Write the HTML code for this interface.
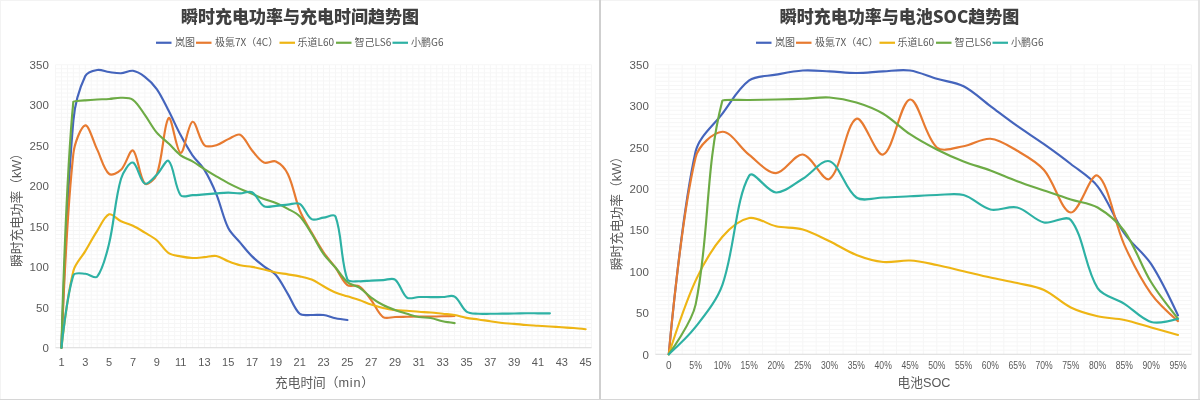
<!DOCTYPE html>
<html><head><meta charset="utf-8"><title>充电功率趋势图</title>
<style>
html,body{margin:0;padding:0;background:#fff;}
body{width:1200px;height:400px;overflow:hidden;}
svg{display:block;}
text{font-family:"Liberation Sans","Noto Sans CJK SC",sans-serif;fill:#595959;}
.tt{font-family:"Noto Sans CJK SC",sans-serif;font-weight:900;font-size:17px;fill:#404040;text-anchor:middle;}
.yl{font-size:11.5px;text-anchor:end;}
.xl{font-size:11px;text-anchor:middle;}
.xr{font-size:10px;text-anchor:middle;}
.lg{font-size:10px;font-family:"Noto Sans CJK SC",sans-serif;}
.at{font-size:12.7px;text-anchor:middle;}
</style></head>
<body>
<svg width="1200" height="400" viewBox="0 0 1200 400">
<rect width="1200" height="400" fill="#fff"/>
<path d="M55.50,64.75V347.75 M61.46,64.75V347.75 M67.41,64.75V347.75 M73.37,64.75V347.75 M79.33,64.75V347.75 M85.28,64.75V347.75 M91.24,64.75V347.75 M97.20,64.75V347.75 M103.15,64.75V347.75 M109.11,64.75V347.75 M115.07,64.75V347.75 M121.02,64.75V347.75 M126.98,64.75V347.75 M132.94,64.75V347.75 M138.89,64.75V347.75 M144.85,64.75V347.75 M150.81,64.75V347.75 M156.76,64.75V347.75 M162.72,64.75V347.75 M168.68,64.75V347.75 M174.63,64.75V347.75 M180.59,64.75V347.75 M186.55,64.75V347.75 M192.50,64.75V347.75 M198.46,64.75V347.75 M204.42,64.75V347.75 M210.37,64.75V347.75 M216.33,64.75V347.75 M222.29,64.75V347.75 M228.24,64.75V347.75 M234.20,64.75V347.75 M240.16,64.75V347.75 M246.11,64.75V347.75 M252.07,64.75V347.75 M258.03,64.75V347.75 M263.98,64.75V347.75 M269.94,64.75V347.75 M275.90,64.75V347.75 M281.85,64.75V347.75 M287.81,64.75V347.75 M293.77,64.75V347.75 M299.72,64.75V347.75 M305.68,64.75V347.75 M311.64,64.75V347.75 M317.59,64.75V347.75 M323.55,64.75V347.75 M329.51,64.75V347.75 M335.46,64.75V347.75 M341.42,64.75V347.75 M347.38,64.75V347.75 M353.33,64.75V347.75 M359.29,64.75V347.75 M365.25,64.75V347.75 M371.20,64.75V347.75 M377.16,64.75V347.75 M383.12,64.75V347.75 M389.07,64.75V347.75 M395.03,64.75V347.75 M400.99,64.75V347.75 M406.94,64.75V347.75 M412.90,64.75V347.75 M418.86,64.75V347.75 M424.81,64.75V347.75 M430.77,64.75V347.75 M436.73,64.75V347.75 M442.68,64.75V347.75 M448.64,64.75V347.75 M454.60,64.75V347.75 M460.55,64.75V347.75 M466.51,64.75V347.75 M472.47,64.75V347.75 M478.42,64.75V347.75 M484.38,64.75V347.75 M490.34,64.75V347.75 M496.29,64.75V347.75 M502.25,64.75V347.75 M508.21,64.75V347.75 M514.16,64.75V347.75 M520.12,64.75V347.75 M526.08,64.75V347.75 M532.03,64.75V347.75 M537.99,64.75V347.75 M543.95,64.75V347.75 M549.90,64.75V347.75 M555.86,64.75V347.75 M561.82,64.75V347.75 M567.77,64.75V347.75 M573.73,64.75V347.75 M579.69,64.75V347.75 M585.64,64.75V347.75 M591.60,64.75V347.75 M55.50,343.71H591.60 M55.50,339.66H591.60 M55.50,335.62H591.60 M55.50,331.58H591.60 M55.50,327.54H591.60 M55.50,323.49H591.60 M55.50,319.45H591.60 M55.50,315.41H591.60 M55.50,311.36H591.60 M55.50,307.32H591.60 M55.50,303.28H591.60 M55.50,299.24H591.60 M55.50,295.19H591.60 M55.50,291.15H591.60 M55.50,287.11H591.60 M55.50,283.06H591.60 M55.50,279.02H591.60 M55.50,274.98H591.60 M55.50,270.94H591.60 M55.50,266.89H591.60 M55.50,262.85H591.60 M55.50,258.81H591.60 M55.50,254.76H591.60 M55.50,250.72H591.60 M55.50,246.68H591.60 M55.50,242.64H591.60 M55.50,238.59H591.60 M55.50,234.55H591.60 M55.50,230.51H591.60 M55.50,226.46H591.60 M55.50,222.42H591.60 M55.50,218.38H591.60 M55.50,214.34H591.60 M55.50,210.29H591.60 M55.50,206.25H591.60 M55.50,202.21H591.60 M55.50,198.16H591.60 M55.50,194.12H591.60 M55.50,190.08H591.60 M55.50,186.04H591.60 M55.50,181.99H591.60 M55.50,177.95H591.60 M55.50,173.91H591.60 M55.50,169.86H591.60 M55.50,165.82H591.60 M55.50,161.78H591.60 M55.50,157.74H591.60 M55.50,153.69H591.60 M55.50,149.65H591.60 M55.50,145.61H591.60 M55.50,141.56H591.60 M55.50,137.52H591.60 M55.50,133.48H591.60 M55.50,129.44H591.60 M55.50,125.39H591.60 M55.50,121.35H591.60 M55.50,117.31H591.60 M55.50,113.26H591.60 M55.50,109.22H591.60 M55.50,105.18H591.60 M55.50,101.14H591.60 M55.50,97.09H591.60 M55.50,93.05H591.60 M55.50,89.01H591.60 M55.50,84.96H591.60 M55.50,80.92H591.60 M55.50,76.88H591.60 M55.50,72.84H591.60 M55.50,68.79H591.60 M55.50,64.75H591.60" stroke="#f6f6f6" stroke-width="1" fill="none"/>
<path d="M55.50,347.75H591.60" stroke="#d9d9d9" stroke-width="1.2" fill="none"/>
<text x="48.80" y="352.05" class="yl">0</text>
<text x="48.80" y="311.62" class="yl">50</text>
<text x="48.80" y="271.19" class="yl">100</text>
<text x="48.80" y="230.76" class="yl">150</text>
<text x="48.80" y="190.34" class="yl">200</text>
<text x="48.80" y="149.91" class="yl">250</text>
<text x="48.80" y="109.48" class="yl">300</text>
<text x="48.80" y="69.05" class="yl">350</text>
<text x="61.46" y="366.30" class="xl">1</text>
<text x="85.28" y="366.30" class="xl">3</text>
<text x="109.11" y="366.30" class="xl">5</text>
<text x="132.94" y="366.30" class="xl">7</text>
<text x="156.76" y="366.30" class="xl">9</text>
<text x="180.59" y="366.30" class="xl">11</text>
<text x="204.42" y="366.30" class="xl">13</text>
<text x="228.24" y="366.30" class="xl">15</text>
<text x="252.07" y="366.30" class="xl">17</text>
<text x="275.90" y="366.30" class="xl">19</text>
<text x="299.72" y="366.30" class="xl">21</text>
<text x="323.55" y="366.30" class="xl">23</text>
<text x="347.38" y="366.30" class="xl">25</text>
<text x="371.20" y="366.30" class="xl">27</text>
<text x="395.03" y="366.30" class="xl">29</text>
<text x="418.86" y="366.30" class="xl">31</text>
<text x="442.68" y="366.30" class="xl">33</text>
<text x="466.51" y="366.30" class="xl">35</text>
<text x="490.34" y="366.30" class="xl">37</text>
<text x="514.16" y="366.30" class="xl">39</text>
<text x="537.99" y="366.30" class="xl">41</text>
<text x="561.82" y="366.30" class="xl">43</text>
<text x="585.64" y="366.30" class="xl">45</text>
<path d="M61.46,347.75 C61.46,347.75 66.76,195.86 73.37,120.54 C74.71,105.30 79.13,89.12 85.28,76.07 C87.07,72.28 93.03,70.71 97.20,70.01 C100.97,69.37 105.12,71.49 109.11,72.03 C113.06,72.56 117.08,73.44 121.02,73.24 C125.02,73.04 129.15,70.24 132.94,70.81 C137.10,71.45 141.35,74.21 144.85,76.88 C149.30,80.27 153.54,84.41 156.76,89.01 C161.48,95.73 164.87,103.48 168.68,110.84 C172.81,118.84 176.34,127.16 180.59,135.10 C184.28,141.98 188.09,148.88 192.50,155.31 C196.04,160.47 201.16,164.56 204.42,169.86 C209.10,177.49 212.92,185.80 216.33,194.12 C220.87,205.20 223.03,217.46 228.24,228.08 C230.97,233.63 236.12,237.84 240.16,242.64 C244.06,247.27 247.78,252.12 252.07,256.38 C255.73,260.02 259.91,263.15 263.98,266.33 C267.85,269.34 272.74,271.33 275.90,274.98 C280.68,280.50 283.92,287.49 287.81,293.82 C291.87,300.42 294.48,309.13 299.72,313.79 C302.42,316.19 307.66,314.80 311.64,315.00 C315.60,315.20 319.65,314.47 323.55,315.00 C327.59,315.55 331.44,317.39 335.46,318.24 C339.39,319.06 347.38,320.02 347.38,320.02" stroke="#4464BC" stroke-width="2.15" fill="none" stroke-linecap="round" stroke-linejoin="round"/>
<path d="M61.46,347.75 C61.46,347.75 66.51,217.70 73.37,153.69 C74.45,143.58 81.06,126.11 85.28,125.39 C89.00,124.76 93.23,141.56 97.20,149.65 C101.17,157.74 103.69,169.31 109.11,173.91 C111.63,176.05 118.20,172.65 121.02,169.86 C126.14,164.83 129.82,148.66 132.94,150.46 C137.76,153.24 139.26,177.92 144.85,183.61 C147.21,186.01 155.14,179.18 156.76,174.72 C163.08,157.35 163.82,122.57 168.68,118.12 C171.76,115.29 176.43,152.25 180.59,152.88 C184.37,153.46 188.06,123.19 192.50,121.75 C196.01,120.62 198.95,139.82 204.42,145.20 C206.89,147.64 212.59,146.16 216.33,145.20 C220.53,144.13 224.17,140.93 228.24,139.14 C232.12,137.43 237.05,133.21 240.16,134.69 C244.99,136.99 247.80,145.46 252.07,150.46 C255.74,154.76 259.32,160.44 263.98,162.59 C267.26,164.10 272.64,159.91 275.90,161.46 C280.58,163.68 285.34,168.85 287.81,173.91 C293.29,185.13 294.94,198.51 299.72,210.29 C302.88,218.08 307.48,225.28 311.64,232.61 C315.42,239.29 319.24,245.99 323.55,252.34 C327.18,257.69 331.65,262.46 335.46,267.70 C339.59,273.38 342.31,281.13 347.38,285.09 C350.25,287.33 356.14,284.32 359.29,286.30 C364.08,289.31 367.49,295.26 371.20,300.04 C375.43,305.50 378.07,313.43 383.12,317.02 C386.01,319.09 391.06,317.06 395.03,317.02 C399.00,316.98 402.97,316.86 406.94,316.78 C410.91,316.70 414.89,316.58 418.86,316.54 C422.83,316.50 426.80,316.58 430.77,316.54 C434.74,316.50 438.71,316.42 442.68,316.30 C446.66,316.18 454.60,315.81 454.60,315.81" stroke="#E77A30" stroke-width="2.15" fill="none" stroke-linecap="round" stroke-linejoin="round"/>
<path d="M61.46,347.75 C61.46,347.75 67.25,295.76 73.37,270.94 C75.19,263.55 81.34,257.75 85.28,251.13 C89.28,244.41 92.95,237.47 97.20,230.91 C100.89,225.21 104.37,216.25 109.11,214.34 C112.31,213.04 116.89,219.32 121.02,221.29 C124.83,223.10 129.13,223.85 132.94,225.66 C137.07,227.62 140.93,230.21 144.85,232.61 C148.87,235.06 153.22,237.16 156.76,240.21 C161.17,244.01 164.01,249.98 168.68,253.15 C171.95,255.37 176.57,255.56 180.59,256.38 C184.51,257.18 188.52,257.86 192.50,258.00 C196.46,258.13 200.45,257.53 204.42,257.19 C208.39,256.85 212.53,255.33 216.33,255.98 C220.47,256.68 224.20,259.66 228.24,261.23 C232.15,262.76 236.10,264.31 240.16,265.28 C244.04,266.20 248.13,266.18 252.07,266.89 C256.07,267.61 260.02,268.62 263.98,269.56 C267.97,270.51 271.89,271.75 275.90,272.55 C279.83,273.34 283.85,273.70 287.81,274.33 C291.79,274.97 295.79,275.49 299.72,276.35 C303.74,277.24 307.87,278.01 311.64,279.59 C315.81,281.33 319.54,284.12 323.55,286.30 C327.49,288.44 331.35,290.79 335.46,292.52 C339.29,294.14 343.40,295.07 347.38,296.32 C351.34,297.58 355.36,298.68 359.29,300.04 C363.30,301.43 367.18,303.22 371.20,304.57 C375.12,305.89 379.09,307.12 383.12,308.05 C387.03,308.95 391.03,309.61 395.03,310.07 C398.98,310.53 402.98,310.52 406.94,310.80 C410.92,311.08 414.88,311.49 418.86,311.77 C422.82,312.05 426.81,312.16 430.77,312.50 C434.75,312.83 438.71,313.37 442.68,313.79 C446.65,314.21 450.67,314.34 454.60,315.00 C458.61,315.68 462.50,317.08 466.51,317.83 C470.44,318.57 474.46,318.87 478.42,319.45 C482.40,320.03 486.36,320.72 490.34,321.31 C494.30,321.90 498.26,322.59 502.25,323.01 C506.21,323.42 510.20,323.48 514.16,323.82 C518.14,324.15 522.10,324.71 526.08,325.03 C530.04,325.35 534.02,325.51 537.99,325.76 C541.96,326.00 545.93,326.23 549.90,326.48 C553.88,326.74 557.84,327.04 561.82,327.29 C565.79,327.55 569.77,327.70 573.73,328.02 C577.71,328.34 585.64,329.23 585.64,329.23" stroke="#EEB514" stroke-width="2.15" fill="none" stroke-linecap="round" stroke-linejoin="round"/>
<path d="M61.46,347.75 C61.46,347.75 65.45,183.74 73.37,101.46 C73.39,101.27 81.31,100.65 85.28,100.33 C89.25,100.00 93.22,99.75 97.20,99.52 C101.17,99.29 105.15,99.25 109.11,98.95 C113.09,98.66 117.07,97.61 121.02,97.74 C125.01,97.88 129.87,97.56 132.94,99.76 C137.82,103.27 141.09,109.69 144.85,114.88 C149.03,120.66 152.24,127.22 156.76,132.67 C160.18,136.79 164.77,139.88 168.68,143.59 C172.72,147.42 176.18,152.02 180.59,155.31 C184.12,157.94 188.65,159.15 192.50,161.37 C196.59,163.73 200.42,166.54 204.42,169.06 C208.36,171.53 212.32,173.97 216.33,176.33 C220.27,178.66 224.20,181.00 228.24,183.12 C232.14,185.18 236.14,187.05 240.16,188.87 C244.08,190.64 248.10,192.20 252.07,193.88 C256.05,195.57 259.95,197.43 263.98,198.97 C267.90,200.47 272.03,201.41 275.90,203.02 C279.97,204.70 283.96,206.68 287.81,208.84 C291.90,211.13 296.54,213.03 299.72,216.36 C304.48,221.33 307.88,227.81 311.64,233.74 C315.82,240.34 319.06,247.59 323.55,253.96 C327.01,258.86 331.57,262.94 335.46,267.54 C339.51,272.32 342.70,278.16 347.38,282.09 C350.64,284.84 355.65,285.23 359.29,287.59 C363.59,290.38 367.04,294.49 371.20,297.54 C374.98,300.31 378.97,302.88 383.12,305.06 C386.92,307.06 390.99,308.59 395.03,310.07 C398.93,311.50 402.95,312.62 406.94,313.79 C410.89,314.94 414.82,316.31 418.86,317.02 C422.76,317.71 426.87,317.29 430.77,317.99 C434.81,318.72 438.66,320.45 442.68,321.31 C446.60,322.15 454.60,323.09 454.60,323.09" stroke="#6DAB45" stroke-width="2.15" fill="none" stroke-linecap="round" stroke-linejoin="round"/>
<path d="M61.46,347.75 C61.46,347.75 66.55,296.57 73.37,275.38 C74.49,271.91 81.35,273.57 85.28,273.77 C89.29,273.97 95.15,279.20 97.20,276.60 C103.09,269.10 106.34,254.82 109.11,243.44 C114.28,222.21 114.94,199.41 121.02,178.76 C122.88,172.45 129.33,161.85 132.94,162.59 C137.27,163.47 139.93,181.11 144.85,183.61 C147.88,185.15 153.19,178.11 156.76,174.72 C161.13,170.56 166.03,158.68 168.68,160.97 C173.97,165.53 174.61,186.67 180.59,195.25 C182.55,198.07 188.54,195.32 192.50,195.17 C196.48,195.02 200.45,194.66 204.42,194.36 C208.39,194.07 212.36,193.68 216.33,193.39 C220.30,193.11 224.27,192.67 228.24,192.67 C232.21,192.67 236.19,193.47 240.16,193.39 C244.13,193.31 248.94,190.49 252.07,192.18 C256.88,194.78 259.16,203.48 263.98,206.25 C267.10,208.04 271.93,206.11 275.90,205.85 C279.88,205.58 283.83,204.97 287.81,204.63 C291.78,204.30 296.70,201.98 299.72,203.82 C304.64,206.83 306.73,216.34 311.64,219.19 C314.67,220.95 319.57,218.12 323.55,217.65 C327.52,217.18 334.21,213.12 335.46,216.36 C342.16,233.71 340.69,261.21 347.38,279.43 C348.63,282.85 355.30,281.10 359.29,281.29 C363.24,281.47 367.23,280.76 371.20,280.56 C375.17,280.36 379.15,280.23 383.12,280.07 C387.09,279.91 392.20,277.51 395.03,279.59 C400.14,283.34 401.83,293.79 406.94,297.54 C409.77,299.61 414.88,297.13 418.86,297.05 C422.83,296.97 426.80,297.05 430.77,297.05 C434.74,297.05 438.71,297.13 442.68,297.05 C446.66,296.97 451.55,294.71 454.60,296.57 C459.49,299.54 461.65,308.01 466.51,311.53 C469.59,313.75 474.42,313.41 478.42,313.79 C482.36,314.16 486.37,313.82 490.34,313.79 C494.31,313.76 498.28,313.67 502.25,313.63 C506.22,313.59 510.19,313.60 514.16,313.55 C518.13,313.49 522.11,313.35 526.08,313.30 C530.05,313.26 534.02,313.30 537.99,313.30 C541.96,313.30 549.90,313.30 549.90,313.30" stroke="#2DB1A4" stroke-width="2.15" fill="none" stroke-linecap="round" stroke-linejoin="round"/>
<path d="M655.40,64.75V354.25 M668.80,64.75V354.25 M682.20,64.75V354.25 M695.60,64.75V354.25 M709.00,64.75V354.25 M722.40,64.75V354.25 M735.80,64.75V354.25 M749.20,64.75V354.25 M762.60,64.75V354.25 M776.00,64.75V354.25 M789.40,64.75V354.25 M802.80,64.75V354.25 M816.20,64.75V354.25 M829.60,64.75V354.25 M843.00,64.75V354.25 M856.40,64.75V354.25 M869.80,64.75V354.25 M883.20,64.75V354.25 M896.60,64.75V354.25 M910.00,64.75V354.25 M923.40,64.75V354.25 M936.80,64.75V354.25 M950.20,64.75V354.25 M963.60,64.75V354.25 M977.00,64.75V354.25 M990.40,64.75V354.25 M1003.80,64.75V354.25 M1017.20,64.75V354.25 M1030.60,64.75V354.25 M1044.00,64.75V354.25 M1057.40,64.75V354.25 M1070.80,64.75V354.25 M1084.20,64.75V354.25 M1097.60,64.75V354.25 M1111.00,64.75V354.25 M1124.40,64.75V354.25 M1137.80,64.75V354.25 M1151.20,64.75V354.25 M1164.60,64.75V354.25 M1178.00,64.75V354.25 M1191.40,64.75V354.25 M655.40,350.11H1191.40 M655.40,345.98H1191.40 M655.40,341.84H1191.40 M655.40,337.71H1191.40 M655.40,333.57H1191.40 M655.40,329.44H1191.40 M655.40,325.30H1191.40 M655.40,321.16H1191.40 M655.40,317.03H1191.40 M655.40,312.89H1191.40 M655.40,308.76H1191.40 M655.40,304.62H1191.40 M655.40,300.49H1191.40 M655.40,296.35H1191.40 M655.40,292.21H1191.40 M655.40,288.08H1191.40 M655.40,283.94H1191.40 M655.40,279.81H1191.40 M655.40,275.67H1191.40 M655.40,271.54H1191.40 M655.40,267.40H1191.40 M655.40,263.26H1191.40 M655.40,259.13H1191.40 M655.40,254.99H1191.40 M655.40,250.86H1191.40 M655.40,246.72H1191.40 M655.40,242.59H1191.40 M655.40,238.45H1191.40 M655.40,234.31H1191.40 M655.40,230.18H1191.40 M655.40,226.04H1191.40 M655.40,221.91H1191.40 M655.40,217.77H1191.40 M655.40,213.64H1191.40 M655.40,209.50H1191.40 M655.40,205.36H1191.40 M655.40,201.23H1191.40 M655.40,197.09H1191.40 M655.40,192.96H1191.40 M655.40,188.82H1191.40 M655.40,184.69H1191.40 M655.40,180.55H1191.40 M655.40,176.41H1191.40 M655.40,172.28H1191.40 M655.40,168.14H1191.40 M655.40,164.01H1191.40 M655.40,159.87H1191.40 M655.40,155.74H1191.40 M655.40,151.60H1191.40 M655.40,147.46H1191.40 M655.40,143.33H1191.40 M655.40,139.19H1191.40 M655.40,135.06H1191.40 M655.40,130.92H1191.40 M655.40,126.79H1191.40 M655.40,122.65H1191.40 M655.40,118.51H1191.40 M655.40,114.38H1191.40 M655.40,110.24H1191.40 M655.40,106.11H1191.40 M655.40,101.97H1191.40 M655.40,97.84H1191.40 M655.40,93.70H1191.40 M655.40,89.56H1191.40 M655.40,85.43H1191.40 M655.40,81.29H1191.40 M655.40,77.16H1191.40 M655.40,73.02H1191.40 M655.40,68.89H1191.40 M655.40,64.75H1191.40" stroke="#f6f6f6" stroke-width="1" fill="none"/>
<path d="M655.40,354.25H1191.40" stroke="#d9d9d9" stroke-width="1.2" fill="none"/>
<text x="648.80" y="358.55" class="yl">0</text>
<text x="648.80" y="317.19" class="yl">50</text>
<text x="648.80" y="275.84" class="yl">100</text>
<text x="648.80" y="234.48" class="yl">150</text>
<text x="648.80" y="193.12" class="yl">200</text>
<text x="648.80" y="151.76" class="yl">250</text>
<text x="648.80" y="110.41" class="yl">300</text>
<text x="648.80" y="69.05" class="yl">350</text>
<text x="668.80" y="368.80" class="xr">0</text>
<text x="695.60" y="368.80" class="xr" textLength="12.6" lengthAdjust="spacingAndGlyphs">5%</text>
<text x="722.40" y="368.80" class="xr" textLength="17.2" lengthAdjust="spacingAndGlyphs">10%</text>
<text x="749.20" y="368.80" class="xr" textLength="17.2" lengthAdjust="spacingAndGlyphs">15%</text>
<text x="776.00" y="368.80" class="xr" textLength="17.2" lengthAdjust="spacingAndGlyphs">20%</text>
<text x="802.80" y="368.80" class="xr" textLength="17.2" lengthAdjust="spacingAndGlyphs">25%</text>
<text x="829.60" y="368.80" class="xr" textLength="17.2" lengthAdjust="spacingAndGlyphs">30%</text>
<text x="856.40" y="368.80" class="xr" textLength="17.2" lengthAdjust="spacingAndGlyphs">35%</text>
<text x="883.20" y="368.80" class="xr" textLength="17.2" lengthAdjust="spacingAndGlyphs">40%</text>
<text x="910.00" y="368.80" class="xr" textLength="17.2" lengthAdjust="spacingAndGlyphs">45%</text>
<text x="936.80" y="368.80" class="xr" textLength="17.2" lengthAdjust="spacingAndGlyphs">50%</text>
<text x="963.60" y="368.80" class="xr" textLength="17.2" lengthAdjust="spacingAndGlyphs">55%</text>
<text x="990.40" y="368.80" class="xr" textLength="17.2" lengthAdjust="spacingAndGlyphs">60%</text>
<text x="1017.20" y="368.80" class="xr" textLength="17.2" lengthAdjust="spacingAndGlyphs">65%</text>
<text x="1044.00" y="368.80" class="xr" textLength="17.2" lengthAdjust="spacingAndGlyphs">70%</text>
<text x="1070.80" y="368.80" class="xr" textLength="17.2" lengthAdjust="spacingAndGlyphs">75%</text>
<text x="1097.60" y="368.80" class="xr" textLength="17.2" lengthAdjust="spacingAndGlyphs">80%</text>
<text x="1124.40" y="368.80" class="xr" textLength="17.2" lengthAdjust="spacingAndGlyphs">85%</text>
<text x="1151.20" y="368.80" class="xr" textLength="17.2" lengthAdjust="spacingAndGlyphs">90%</text>
<text x="1178.00" y="368.80" class="xr" textLength="17.2" lengthAdjust="spacingAndGlyphs">95%</text>
<path d="M668.80,354.25 C668.80,354.25 681.05,216.95 695.60,151.60 C698.91,136.72 713.07,125.93 722.40,113.55 C730.94,102.22 738.33,88.35 749.20,80.47 C756.20,75.39 767.02,76.34 776.00,74.68 C784.88,73.03 793.82,71.09 802.80,70.54 C811.68,69.99 820.67,70.95 829.60,71.37 C838.54,71.78 847.47,73.02 856.40,73.02 C865.33,73.02 874.26,71.78 883.20,71.37 C892.13,70.95 901.27,69.33 910.00,70.54 C919.13,71.81 927.83,76.18 936.80,78.81 C945.70,81.42 955.48,82.12 963.60,86.26 C973.34,91.22 981.47,99.49 990.40,106.11 C999.33,112.72 1008.14,119.52 1017.20,125.96 C1026.00,132.21 1035.20,137.91 1044.00,144.16 C1053.06,150.59 1062.07,157.13 1070.80,164.01 C1079.93,171.20 1090.61,177.27 1097.60,186.34 C1108.47,200.43 1114.19,218.68 1124.40,233.49 C1132.06,244.60 1143.82,252.82 1151.20,264.09 C1161.69,280.12 1178.00,315.37 1178.00,315.37" stroke="#4464BC" stroke-width="2.15" fill="none" stroke-linecap="round" stroke-linejoin="round"/>
<path d="M668.80,354.25 C668.80,354.25 680.54,219.89 695.60,157.39 C698.41,145.72 713.26,132.17 722.40,131.75 C731.13,131.34 739.87,147.71 749.20,154.91 C757.73,161.49 767.10,173.17 776.00,173.11 C784.97,173.04 794.34,153.58 802.80,154.50 C812.20,155.51 823.26,183.12 829.60,178.90 C841.12,171.21 845.76,123.61 856.40,118.76 C863.62,115.47 875.66,157.21 883.20,154.50 C893.53,150.78 900.59,100.72 910.00,99.49 C918.45,98.38 924.79,137.00 936.80,147.46 C942.66,152.57 954.83,147.64 963.60,146.22 C972.69,144.75 981.71,138.04 990.40,138.78 C999.57,139.56 1008.78,145.88 1017.20,150.77 C1026.65,156.27 1036.92,161.82 1044.00,169.96 C1054.79,182.38 1061.43,211.49 1070.80,212.48 C1079.30,213.37 1090.81,171.46 1097.60,175.59 C1108.68,182.32 1114.18,222.51 1124.40,245.07 C1132.04,261.93 1140.61,278.83 1151.20,293.87 C1158.48,304.20 1178.00,321.16 1178.00,321.16" stroke="#E77A30" stroke-width="2.15" fill="none" stroke-linecap="round" stroke-linejoin="round"/>
<path d="M668.80,354.25 C668.80,354.25 684.81,304.28 695.60,280.63 C702.68,265.13 711.48,249.55 722.40,236.80 C729.35,228.68 739.58,219.92 749.20,218.02 C757.44,216.39 766.90,224.26 776.00,226.21 C784.77,228.09 794.23,227.11 802.80,229.52 C812.09,232.13 820.79,237.08 829.60,241.26 C838.66,245.57 847.09,251.39 856.40,254.99 C864.96,258.31 874.12,261.09 883.20,262.02 C891.99,262.93 901.12,260.04 910.00,260.53 C918.99,261.03 927.92,263.23 936.80,265.00 C945.79,266.79 954.67,269.12 963.60,271.20 C972.54,273.29 981.44,275.51 990.40,277.49 C999.31,279.46 1008.32,280.96 1017.20,283.03 C1026.19,285.13 1035.72,286.20 1044.00,289.98 C1053.58,294.36 1061.30,302.85 1070.80,307.52 C1079.17,311.62 1088.48,314.16 1097.60,316.28 C1106.35,318.32 1115.59,318.16 1124.40,320.01 C1133.46,321.91 1142.26,325.04 1151.20,327.53 C1160.13,330.03 1178.00,334.98 1178.00,334.98" stroke="#EEB514" stroke-width="2.15" fill="none" stroke-linecap="round" stroke-linejoin="round"/>
<path d="M668.80,354.25 C668.80,354.25 691.76,322.81 695.60,304.62 C709.62,238.22 704.83,167.56 722.40,100.48 C722.70,99.35 740.27,100.15 749.20,99.99 C758.13,99.82 767.07,99.70 776.00,99.49 C784.93,99.28 793.87,99.08 802.80,98.75 C811.74,98.41 820.74,96.89 829.60,97.50 C838.60,98.13 847.75,99.85 856.40,102.47 C865.62,105.26 874.93,108.82 883.20,113.72 C892.80,119.41 900.67,127.99 910.00,134.23 C918.53,139.93 927.64,144.87 936.80,149.53 C945.51,153.97 954.49,157.97 963.60,161.53 C972.36,164.95 981.56,167.21 990.40,170.46 C999.43,173.78 1008.19,177.85 1017.20,181.21 C1026.05,184.52 1035.05,187.42 1044.00,190.48 C1052.92,193.52 1061.82,196.64 1070.80,199.49 C1079.69,202.32 1089.76,202.87 1097.60,207.51 C1107.63,213.46 1117.55,221.70 1124.40,231.25 C1135.42,246.63 1141.19,265.95 1151.20,282.29 C1159.05,295.10 1178.00,318.68 1178.00,318.68" stroke="#6DAB45" stroke-width="2.15" fill="none" stroke-linecap="round" stroke-linejoin="round"/>
<path d="M668.80,354.25 C668.80,354.25 687.85,337.00 695.60,326.95 C705.72,313.84 716.90,300.30 722.40,284.77 C734.77,249.84 735.26,199.59 749.20,175.59 C753.13,168.82 766.84,191.92 776.00,192.46 C784.71,192.97 794.14,183.77 802.80,178.73 C812.00,173.38 822.18,158.68 829.60,161.28 C840.05,164.94 845.20,189.93 856.40,197.51 C863.06,202.01 874.27,197.71 883.20,197.51 C892.14,197.30 901.07,196.68 910.00,196.27 C918.93,195.85 927.86,195.23 936.80,195.03 C945.73,194.82 955.24,192.77 963.60,195.03 C973.10,197.59 980.91,207.29 990.40,209.50 C998.77,211.45 1008.86,205.49 1017.20,207.51 C1026.73,209.82 1034.48,220.27 1044.00,222.49 C1052.35,224.43 1065.99,214.12 1070.80,220.00 C1083.86,235.99 1085.06,268.47 1097.60,288.08 C1102.93,296.40 1115.65,298.26 1124.40,303.79 C1133.52,309.56 1141.45,319.27 1151.20,321.99 C1159.32,324.26 1178.00,318.77 1178.00,318.77" stroke="#2DB1A4" stroke-width="2.15" fill="none" stroke-linecap="round" stroke-linejoin="round"/>
<path d="M156.00,42.75h15.5" stroke="#4464BC" stroke-width="2.2" fill="none"/>
<text x="175.00" y="46.2" class="lg">岚图</text>
<path d="M196.00,42.75h15.5" stroke="#E77A30" stroke-width="2.2" fill="none"/>
<text x="215.00" y="46.2" class="lg">极氪7X（4C）</text>
<path d="M279.50,42.75h15.5" stroke="#EEB514" stroke-width="2.2" fill="none"/>
<text x="297.50" y="46.2" class="lg">乐道L60</text>
<path d="M336.00,42.75h15.5" stroke="#6DAB45" stroke-width="2.2" fill="none"/>
<text x="354.50" y="46.2" class="lg">智己LS6</text>
<path d="M392.50,42.75h15.5" stroke="#2DB1A4" stroke-width="2.2" fill="none"/>
<text x="411.00" y="46.2" class="lg">小鹏G6</text>
<path d="M756.00,42.75h15.5" stroke="#4464BC" stroke-width="2.2" fill="none"/>
<text x="775.00" y="46.2" class="lg">岚图</text>
<path d="M796.00,42.75h15.5" stroke="#E77A30" stroke-width="2.2" fill="none"/>
<text x="815.00" y="46.2" class="lg">极氪7X（4C）</text>
<path d="M879.50,42.75h15.5" stroke="#EEB514" stroke-width="2.2" fill="none"/>
<text x="897.50" y="46.2" class="lg">乐道L60</text>
<path d="M936.00,42.75h15.5" stroke="#6DAB45" stroke-width="2.2" fill="none"/>
<text x="954.50" y="46.2" class="lg">智己LS6</text>
<path d="M992.50,42.75h15.5" stroke="#2DB1A4" stroke-width="2.2" fill="none"/>
<text x="1011.00" y="46.2" class="lg">小鹏G6</text>
<text x="300" y="22.6" class="tt">瞬时充电功率与充电时间趋势图</text>
<text x="899.5" y="22.6" class="tt">瞬时充电功率与电池SOC趋势图</text>
<text x="324.5" y="386.6" class="at">充电时间（<tspan letter-spacing="0.8">min</tspan>）</text>
<text x="924" y="386.6" class="at">电池SOC</text>
<text transform="translate(21.3,207) rotate(-90)" class="at">瞬时充电功率（kW）</text>
<text transform="translate(621.3,210.25) rotate(-90)" class="at">瞬时充电功率（kW）</text>
<path d="M0.5,0V400 M0,0.5H1200" stroke="#f3f3f3" stroke-width="1" fill="none"/>
<path d="M600,0V400" stroke="#cfcfcf" stroke-width="2" fill="none"/>
<path d="M1199,0V400" stroke="#e4e4e4" stroke-width="2" fill="none"/>
<path d="M0,399.5H1200" stroke="#d6d6d6" stroke-width="1" fill="none"/>
</svg>
</body></html>
